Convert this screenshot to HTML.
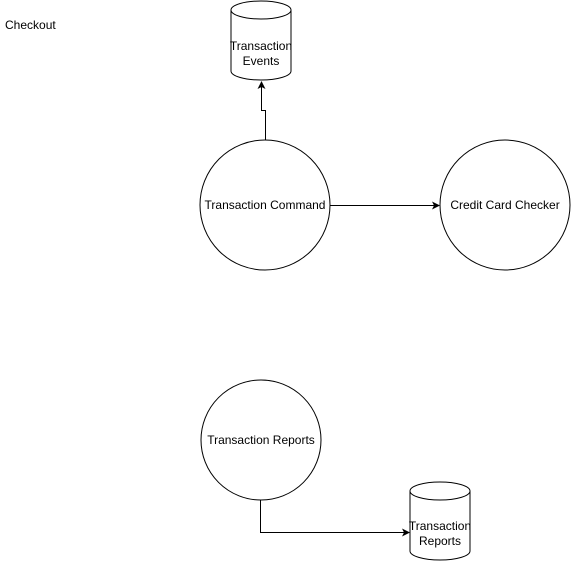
<!DOCTYPE html>
<html><head><style>body{margin:0;background:#fff}svg text{font-family:"Liberation Sans",sans-serif;font-size:12px;fill:#000}</style></head>
<body>
<svg width="571" height="561" viewBox="0 0 571 561" xmlns="http://www.w3.org/2000/svg">
<defs><marker id="a" markerWidth="8" markerHeight="8" refX="7" refY="4" orient="auto" markerUnits="userSpaceOnUse"><path d="M0,0 L8,4 L0,8 L2,4 Z" fill="#000"/></marker></defs>
<g fill="#fff" stroke="#000" stroke-width="1">
<path d="M231,10 A30,9 0 0 1 291,10 L291,71 A30,9 0 0 1 231,71 Z"/>
<path d="M231,10 A30,9 0 0 0 291,10" fill="none"/>
<path d="M410,491 A30,9 0 0 1 470,491 L470,551 A30,9 0 0 1 410,551 Z"/>
<path d="M410,491 A30,9 0 0 0 470,491" fill="none"/>
<circle cx="265" cy="205" r="65"/>
<circle cx="505" cy="205" r="65"/>
<circle cx="261" cy="440" r="60"/>
</g>
<g fill="none" stroke="#000">
<path d="M265.5,140 V110.5 H261.5 V82" marker-end="url(#a)"/>
<path d="M330,205.5 H439" marker-end="url(#a)"/>
<path d="M260.5,500 V532.5 H409" marker-end="url(#a)"/>
</g>
<text x="5" y="29">Checkout</text>
<text x="261" y="50" text-anchor="middle">Transaction</text>
<text x="261" y="65" text-anchor="middle">Events</text>
<text x="265" y="209" text-anchor="middle">Transaction Command</text>
<text x="505" y="209" text-anchor="middle">Credit Card Checker</text>
<text x="261" y="444" text-anchor="middle">Transaction Reports</text>
<text x="440" y="530" text-anchor="middle">Transaction</text>
<text x="440" y="545" text-anchor="middle">Reports</text>
</svg>
</body></html>
